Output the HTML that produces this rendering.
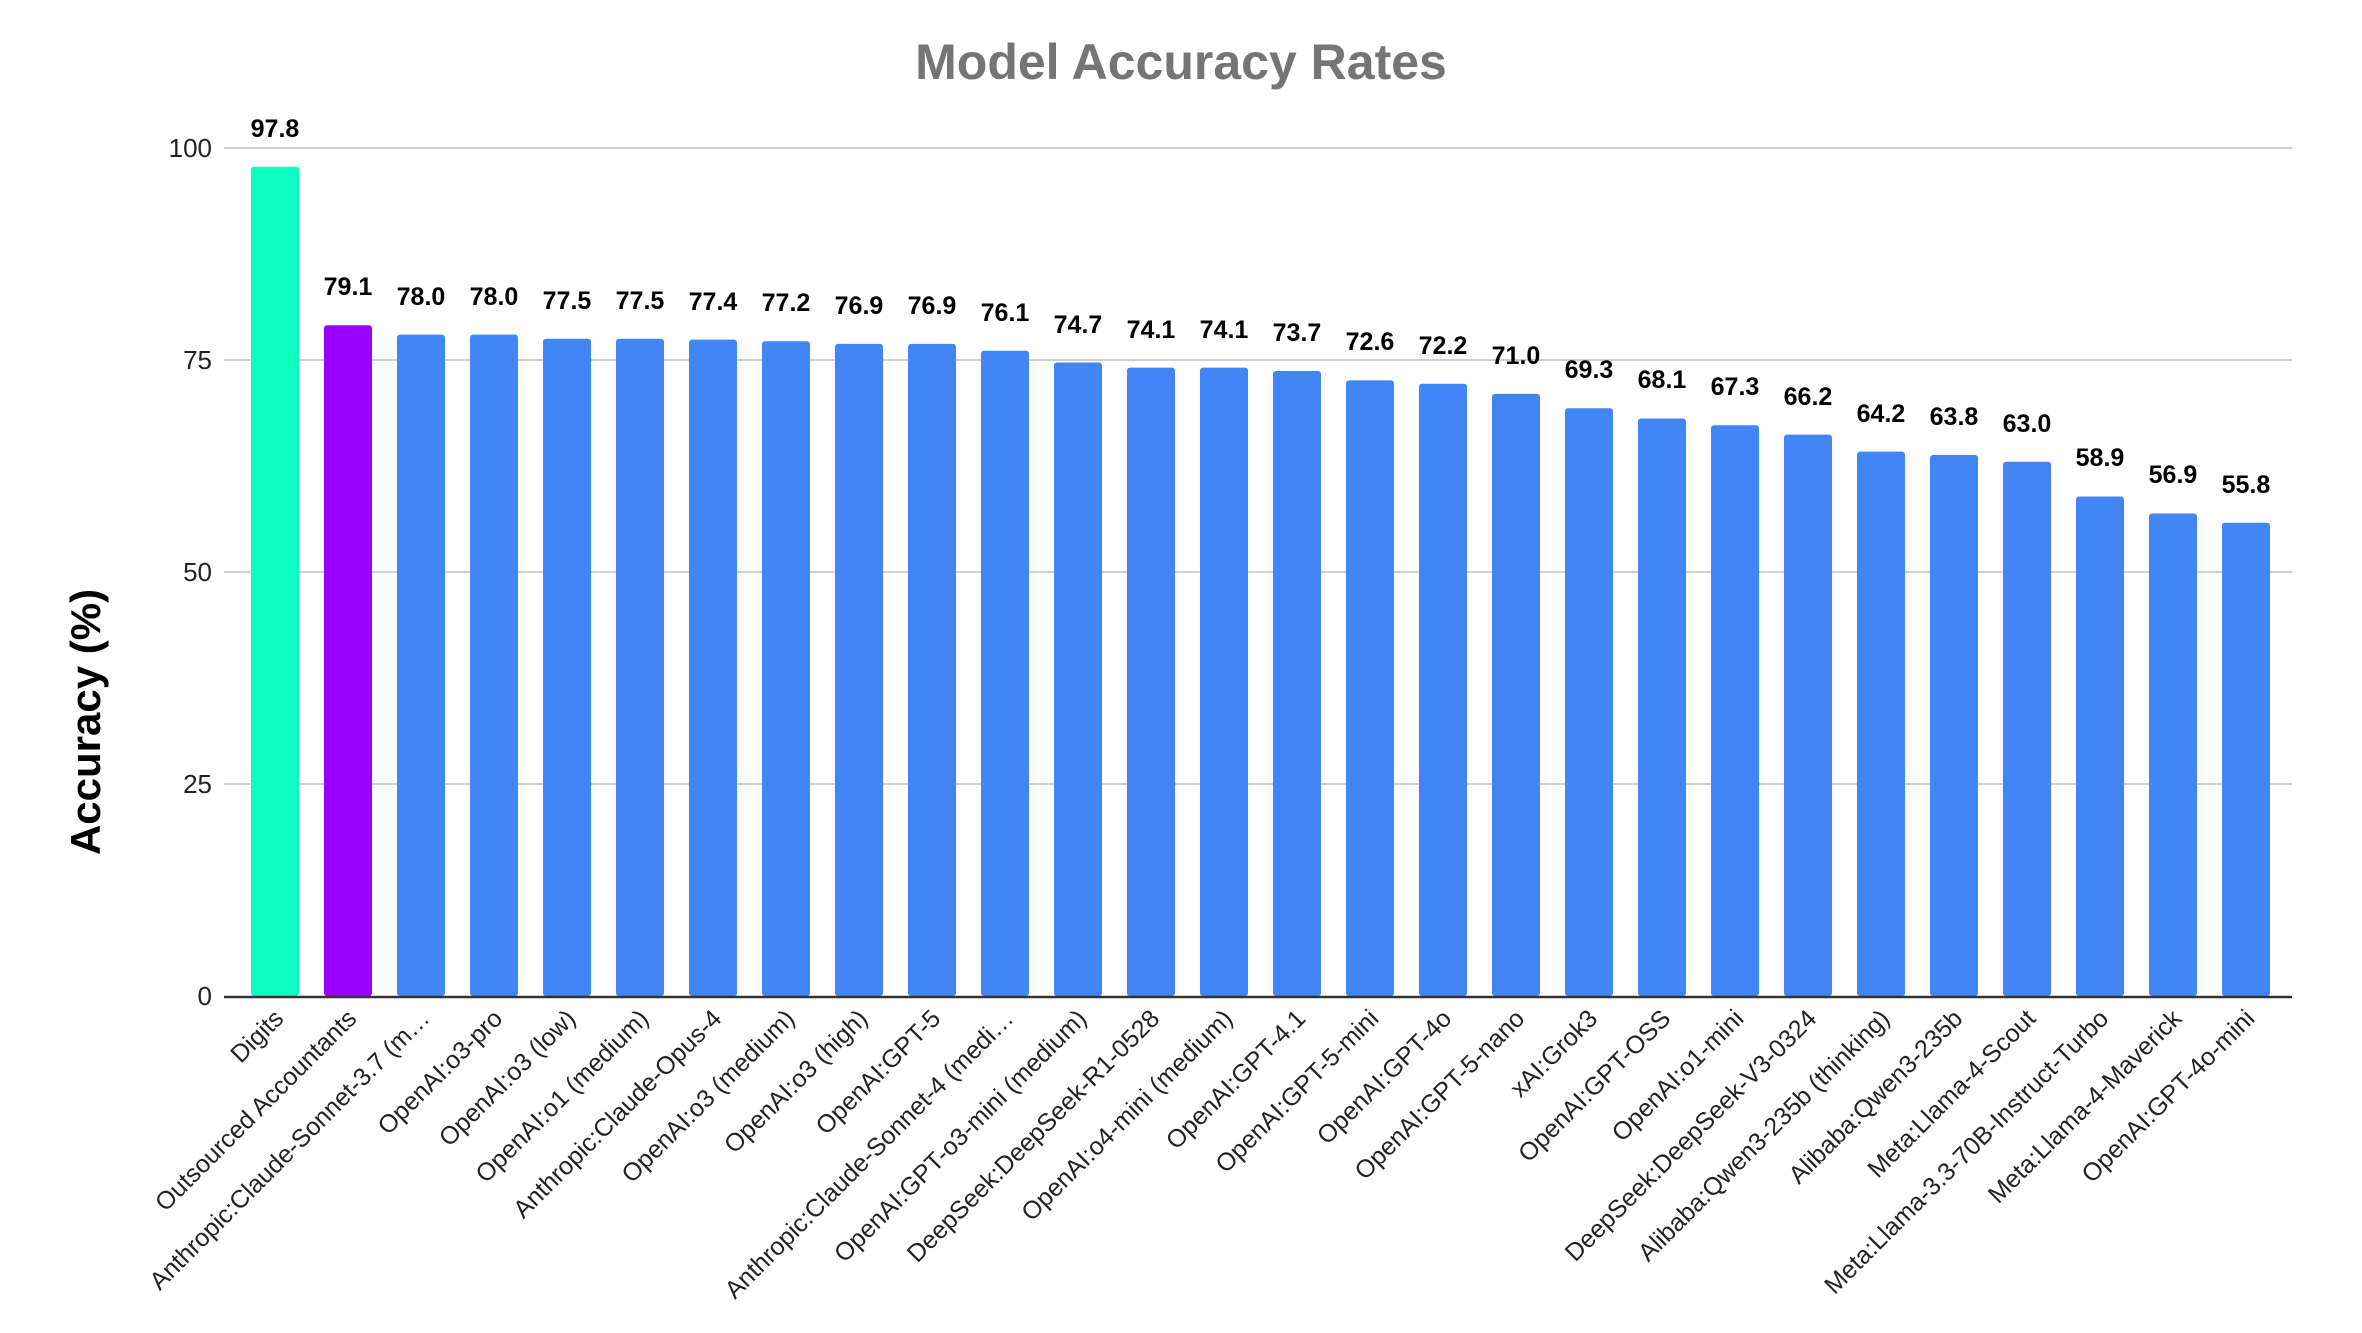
<!DOCTYPE html>
<html><head><meta charset="utf-8"><style>
html,body{margin:0;padding:0;background:#fff;}
svg{display:block;font-family:"Liberation Sans",Arial,sans-serif;}
.v{font-weight:bold;font-size:25px;text-anchor:middle;fill:#000;}
.x{font-size:25px;text-anchor:end;fill:#222;}
.y{font-size:26px;text-anchor:end;fill:#222;}
</style></head><body>
<svg width="2362" height="1333" viewBox="0 0 2362 1333" xmlns="http://www.w3.org/2000/svg">
<text x="1181" y="79" text-anchor="middle" font-size="50" font-weight="bold" fill="#757575">Model Accuracy Rates</text>
<text transform="translate(100,722) rotate(-90)" text-anchor="middle" font-size="42" font-weight="bold" fill="#000">Accuracy (%)</text>
<g stroke="#cfcfcf" stroke-width="2">
<line x1="224" y1="148" x2="2292" y2="148"/><line x1="224" y1="360" x2="2292" y2="360"/><line x1="224" y1="572" x2="2292" y2="572"/><line x1="224" y1="784" x2="2292" y2="784"/>
</g>
<text class="y" x="212" y="157">100</text><text class="y" x="212" y="369">75</text><text class="y" x="212" y="581">50</text><text class="y" x="212" y="793">25</text><text class="y" x="212" y="1005">0</text>
<g fill="#4285f4">
<rect x="251" y="166.7" width="48" height="829.3" rx="3" fill="#0affc0"/>
<rect x="324" y="325.2" width="48" height="670.8" rx="3" fill="#9900ff"/>
<rect x="397" y="334.6" width="48" height="661.4" rx="3"/>
<rect x="470" y="334.6" width="48" height="661.4" rx="3"/>
<rect x="543" y="338.8" width="48" height="657.2" rx="3"/>
<rect x="616" y="338.8" width="48" height="657.2" rx="3"/>
<rect x="689" y="339.6" width="48" height="656.4" rx="3"/>
<rect x="762" y="341.3" width="48" height="654.7" rx="3"/>
<rect x="835" y="343.9" width="48" height="652.1" rx="3"/>
<rect x="908" y="343.9" width="48" height="652.1" rx="3"/>
<rect x="981" y="350.7" width="48" height="645.3" rx="3"/>
<rect x="1054" y="362.5" width="48" height="633.5" rx="3"/>
<rect x="1127" y="367.6" width="48" height="628.4" rx="3"/>
<rect x="1200" y="367.6" width="48" height="628.4" rx="3"/>
<rect x="1273" y="371.0" width="48" height="625" rx="3"/>
<rect x="1346" y="380.4" width="48" height="615.6" rx="3"/>
<rect x="1419" y="383.7" width="48" height="612.3" rx="3"/>
<rect x="1492" y="393.9" width="48" height="602.1" rx="3"/>
<rect x="1565" y="408.3" width="48" height="587.7" rx="3"/>
<rect x="1638" y="418.5" width="48" height="577.5" rx="3"/>
<rect x="1711" y="425.3" width="48" height="570.7" rx="3"/>
<rect x="1784" y="434.6" width="48" height="561.4" rx="3"/>
<rect x="1857" y="451.6" width="48" height="544.4" rx="3"/>
<rect x="1930" y="455.0" width="48" height="541" rx="3"/>
<rect x="2003" y="461.8" width="48" height="534.2" rx="3"/>
<rect x="2076" y="496.5" width="48" height="499.5" rx="3"/>
<rect x="2149" y="513.5" width="48" height="482.5" rx="3"/>
<rect x="2222" y="522.8" width="48" height="473.2" rx="3"/>
</g>
<line x1="224" y1="997" x2="2292" y2="997" stroke="#333" stroke-width="2.5"/>
<text class="v" x="275" y="137">97.8</text>
<text class="v" x="348" y="295">79.1</text>
<text class="v" x="421" y="305">78.0</text>
<text class="v" x="494" y="305">78.0</text>
<text class="v" x="567" y="309">77.5</text>
<text class="v" x="640" y="309">77.5</text>
<text class="v" x="713" y="310">77.4</text>
<text class="v" x="786" y="311">77.2</text>
<text class="v" x="859" y="314">76.9</text>
<text class="v" x="932" y="314">76.9</text>
<text class="v" x="1005" y="321">76.1</text>
<text class="v" x="1078" y="333">74.7</text>
<text class="v" x="1151" y="338">74.1</text>
<text class="v" x="1224" y="338">74.1</text>
<text class="v" x="1297" y="341">73.7</text>
<text class="v" x="1370" y="350">72.6</text>
<text class="v" x="1443" y="354">72.2</text>
<text class="v" x="1516" y="364">71.0</text>
<text class="v" x="1589" y="378">69.3</text>
<text class="v" x="1662" y="388">68.1</text>
<text class="v" x="1735" y="395">67.3</text>
<text class="v" x="1808" y="405">66.2</text>
<text class="v" x="1881" y="422">64.2</text>
<text class="v" x="1954" y="425">63.8</text>
<text class="v" x="2027" y="432">63.0</text>
<text class="v" x="2100" y="466">58.9</text>
<text class="v" x="2173" y="483">56.9</text>
<text class="v" x="2246" y="493">55.8</text>
<text class="x" transform="translate(285,1020) rotate(-45)">Digits</text>
<text class="x" transform="translate(358,1020) rotate(-45)">Outsourced Accountants</text>
<text class="x" transform="translate(431,1020) rotate(-45)">Anthropic:Claude-Sonnet-3.7 (m…</text>
<text class="x" transform="translate(504,1020) rotate(-45)">OpenAI:o3-pro</text>
<text class="x" transform="translate(577,1020) rotate(-45)">OpenAI:o3 (low)</text>
<text class="x" transform="translate(650,1020) rotate(-45)">OpenAI:o1 (medium)</text>
<text class="x" transform="translate(723,1020) rotate(-45)">Anthropic:Claude-Opus-4</text>
<text class="x" transform="translate(796,1020) rotate(-45)">OpenAI:o3 (medium)</text>
<text class="x" transform="translate(869,1020) rotate(-45)">OpenAI:o3 (high)</text>
<text class="x" transform="translate(942,1020) rotate(-45)">OpenAI:GPT-5</text>
<text class="x" transform="translate(1015,1020) rotate(-45)">Anthropic:Claude-Sonnet-4 (medi…</text>
<text class="x" transform="translate(1088,1020) rotate(-45)">OpenAI:GPT-o3-mini (medium)</text>
<text class="x" transform="translate(1161,1020) rotate(-45)">DeepSeek:DeepSeek-R1-0528</text>
<text class="x" transform="translate(1234,1020) rotate(-45)">OpenAI:o4-mini (medium)</text>
<text class="x" transform="translate(1307,1020) rotate(-45)">OpenAI:GPT-4.1</text>
<text class="x" transform="translate(1380,1020) rotate(-45)">OpenAI:GPT-5-mini</text>
<text class="x" transform="translate(1453,1020) rotate(-45)">OpenAI:GPT-4o</text>
<text class="x" transform="translate(1526,1020) rotate(-45)">OpenAI:GPT-5-nano</text>
<text class="x" transform="translate(1599,1020) rotate(-45)">xAI:Grok3</text>
<text class="x" transform="translate(1672,1020) rotate(-45)">OpenAI:GPT-OSS</text>
<text class="x" transform="translate(1745,1020) rotate(-45)">OpenAI:o1-mini</text>
<text class="x" transform="translate(1818,1020) rotate(-45)">DeepSeek:DeepSeek-V3-0324</text>
<text class="x" transform="translate(1891,1020) rotate(-45)">Alibaba:Qwen3-235b (thinking)</text>
<text class="x" transform="translate(1964,1020) rotate(-45)">Alibaba:Qwen3-235b</text>
<text class="x" transform="translate(2037,1020) rotate(-45)">Meta:Llama-4-Scout</text>
<text class="x" transform="translate(2110,1020) rotate(-45)">Meta:Llama-3.3-70B-Instruct-Turbo</text>
<text class="x" transform="translate(2183,1020) rotate(-45)">Meta:Llama-4-Maverick</text>
<text class="x" transform="translate(2256,1020) rotate(-45)">OpenAI:GPT-4o-mini</text>
</svg>
</body></html>
